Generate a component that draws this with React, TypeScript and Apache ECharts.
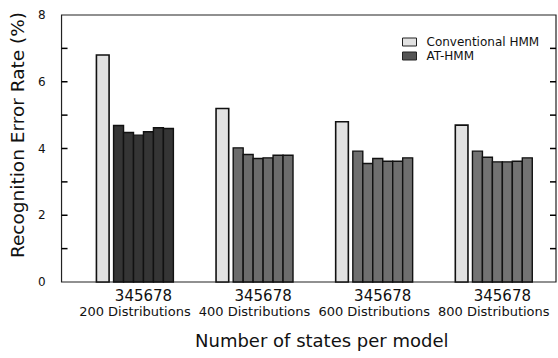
import React, { useEffect, useRef } from 'react';
import * as echarts from 'echarts';

// ---- data ----
const GROUPS = ['200 Distributions', '400 Distributions', '600 Distributions', '800 Distributions'];
const STATES = ['3', '4', '5', '6', '7', '8'];
const CONVENTIONAL = [6.8, 5.2, 4.8, 4.7];
const AT_HMM_200 = [4.69, 4.48, 4.4, 4.5, 4.62, 4.6];
const AT_HMM_400 = [4.02, 3.82, 3.7, 3.72, 3.8, 3.8];
const AT_HMM_600 = [3.92, 3.55, 3.7, 3.62, 3.62, 3.72];
const AT_HMM_800 = [3.92, 3.74, 3.6, 3.6, 3.62, 3.72];
const AT_HMM = [AT_HMM_200, AT_HMM_400, AT_HMM_600, AT_HMM_800];
const Y_LABELS = [0, 2, 4, 6, 8];
const Y_TICKS = [1, 2, 3, 4, 5, 6, 7];

// ---- layout (x axis units) ----
const GROUP_SPAN = 12;
const CONV_W = 1.27;
const AT_START = 1.72;
const AT_W = 1.0;
const X_MIN = -3.5;
const X_MAX = 46.1;
const TICK_PX = 6;

const FONT = 'DejaVu Sans';
const TEXT = '#111';
const CONV_FILL = '#e2e2e2';
const AT_SHADES = ['#353535', '#6c6c6c', '#6f6f6f', '#737373'];

export default function App() {
  const ref = useRef<HTMLDivElement>(null);
  useEffect(() => {
    if (!ref.current) return;
    const chart = echarts.init(ref.current, undefined, { renderer: 'svg' });

    const convData = CONVENTIONAL.map((v, g) => [g, v]);
    const atData: number[][] = [];
    AT_HMM.forEach((arr, g) => arr.forEach((v, s) => atData.push([g, s, v])));

    const rect = (api: any, x0: number, x1: number, v: number) => {
      const a = api.coord([x0, v]);
      const b = api.coord([x1, 0]);
      return { x: a[0], y: a[1], width: b[0] - a[0], height: b[1] - a[1] };
    };

    const digitPos = GROUPS.map((_, g) => g * GROUP_SPAN + AT_START + (STATES.length * AT_W) / 2);
    const groupCenter = (AT_START + STATES.length * AT_W) / 2;
    const namePos = GROUPS.map((_, g) => g * GROUP_SPAN + groupCenter);

    const option: any = {
      animation: false,
      grid: {
        left: 60, right: 2, top: 15, bottom: 76,
        show: true, borderColor: '#222', borderWidth: 1.2, backgroundColor: 'transparent',
      },
      legend: {
        orient: 'vertical',
        left: 397,
        top: 31,
        itemWidth: 14,
        itemHeight: 8,
        itemGap: 2,
        icon: 'rect',
        textStyle: { fontFamily: FONT, fontSize: 12, color: TEXT, lineHeight: 12, padding: [0, 0, 0, 5] },
        data: [
          { name: 'Conventional HMM', itemStyle: { color: CONV_FILL, borderColor: '#222', borderWidth: 1 } },
          { name: 'AT-HMM', itemStyle: { color: '#555', borderColor: '#222', borderWidth: 1 } },
        ],
      },
      xAxis: [
        {
          type: 'value', min: X_MIN, max: X_MAX, position: 'bottom',
          axisLine: { show: false, onZero: false }, axisTick: { show: false }, splitLine: { show: false },
          axisLabel: {
            customValues: digitPos,
            formatter: () => STATES.join(''),
            fontFamily: FONT, fontSize: 15, color: TEXT, margin: 6,
          },
          name: 'Number of states per model',
          nameLocation: 'middle',
          nameGap: 49,
          nameTextStyle: { fontFamily: FONT, fontSize: 18, color: TEXT, padding: [0, 0, 0, 26] },
        },
        {
          type: 'value', min: X_MIN, max: X_MAX, position: 'bottom', offset: 0,
          axisLine: { show: false, onZero: false }, axisTick: { show: false }, splitLine: { show: false },
          axisLabel: {
            customValues: namePos,
            formatter: (v: number) => GROUPS[Math.round((v - groupCenter) / GROUP_SPAN)] ?? '',
            fontFamily: FONT, fontSize: 13, color: TEXT, margin: 23,
          },
        },
      ],
      yAxis: [
        {
          type: 'value', min: 0, max: 8, interval: 1, position: 'left',
          axisLine: { show: false, onZero: false },
          axisTick: { show: false },
          splitLine: { show: false },
          axisLabel: {
            formatter: (v: number) => (Y_LABELS.includes(v) ? String(v) : ''),
            fontFamily: FONT, fontSize: 12, color: TEXT, margin: 16,
          },
          name: 'Recognition Error Rate (%)',
          nameLocation: 'middle',
          nameGap: 32,
          nameTextStyle: { fontFamily: FONT, fontSize: 18.5, color: TEXT, padding: [0, 0, 0, 27] },
        },
      ],
      series: [
        {
          name: 'Conventional HMM',
          type: 'custom',
          xAxisIndex: 0, yAxisIndex: 0,
          encode: { x: 0, y: 1 },
          data: convData,
          itemStyle: { color: CONV_FILL },
          renderItem: (params: any, api: any) => {
            const g = api.value(0);
            const v = api.value(1);
            const x0 = g * GROUP_SPAN;
            return {
              type: 'rect',
              shape: rect(api, x0, x0 + CONV_W, v),
              style: { fill: CONV_FILL, stroke: '#111', lineWidth: 1.6 },
            };
          },
        },
        {
          name: 'AT-HMM',
          type: 'custom',
          xAxisIndex: 0, yAxisIndex: 0,
          encode: { x: 0, y: 2 },
          data: atData,
          itemStyle: { color: '#555' },
          renderItem: (params: any, api: any) => {
            const g = api.value(0);
            const s = api.value(1);
            const v = api.value(2);
            const x0 = g * GROUP_SPAN + AT_START + s * AT_W;
            return {
              type: 'rect',
              shape: rect(api, x0, x0 + AT_W, v),
              style: { fill: AT_SHADES[g], stroke: '#111', lineWidth: 1.4 },
            };
          },
        },
        {
          name: 'ticks',
          type: 'custom',
          xAxisIndex: 0, yAxisIndex: 0,
          encode: { x: 0, y: 1 },
          data: Y_TICKS.map((v) => [X_MIN, v]),
          silent: true,
          z: 5,
          renderItem: (params: any, api: any) => {
            const v = api.value(1);
            const l = api.coord([X_MIN, v]);
            const r = api.coord([X_MAX, v]);
            const st = { stroke: '#000', lineWidth: 1.5 };
            return {
              type: 'group',
              children: [
                { type: 'line', shape: { x1: l[0], y1: l[1], x2: l[0] + TICK_PX, y2: l[1] }, style: st },
                { type: 'line', shape: { x1: r[0], y1: r[1], x2: r[0] - TICK_PX, y2: r[1] }, style: st },
              ],
            };
          },
        },
      ],
    };
    chart.setOption(option);
    return () => chart.dispose();
  }, []);
  return (
    <div
      ref={ref}
      style={{ position: 'fixed', left: 0, top: 0, width: 558, height: 358, background: '#fff' }}
    />
  );
}
